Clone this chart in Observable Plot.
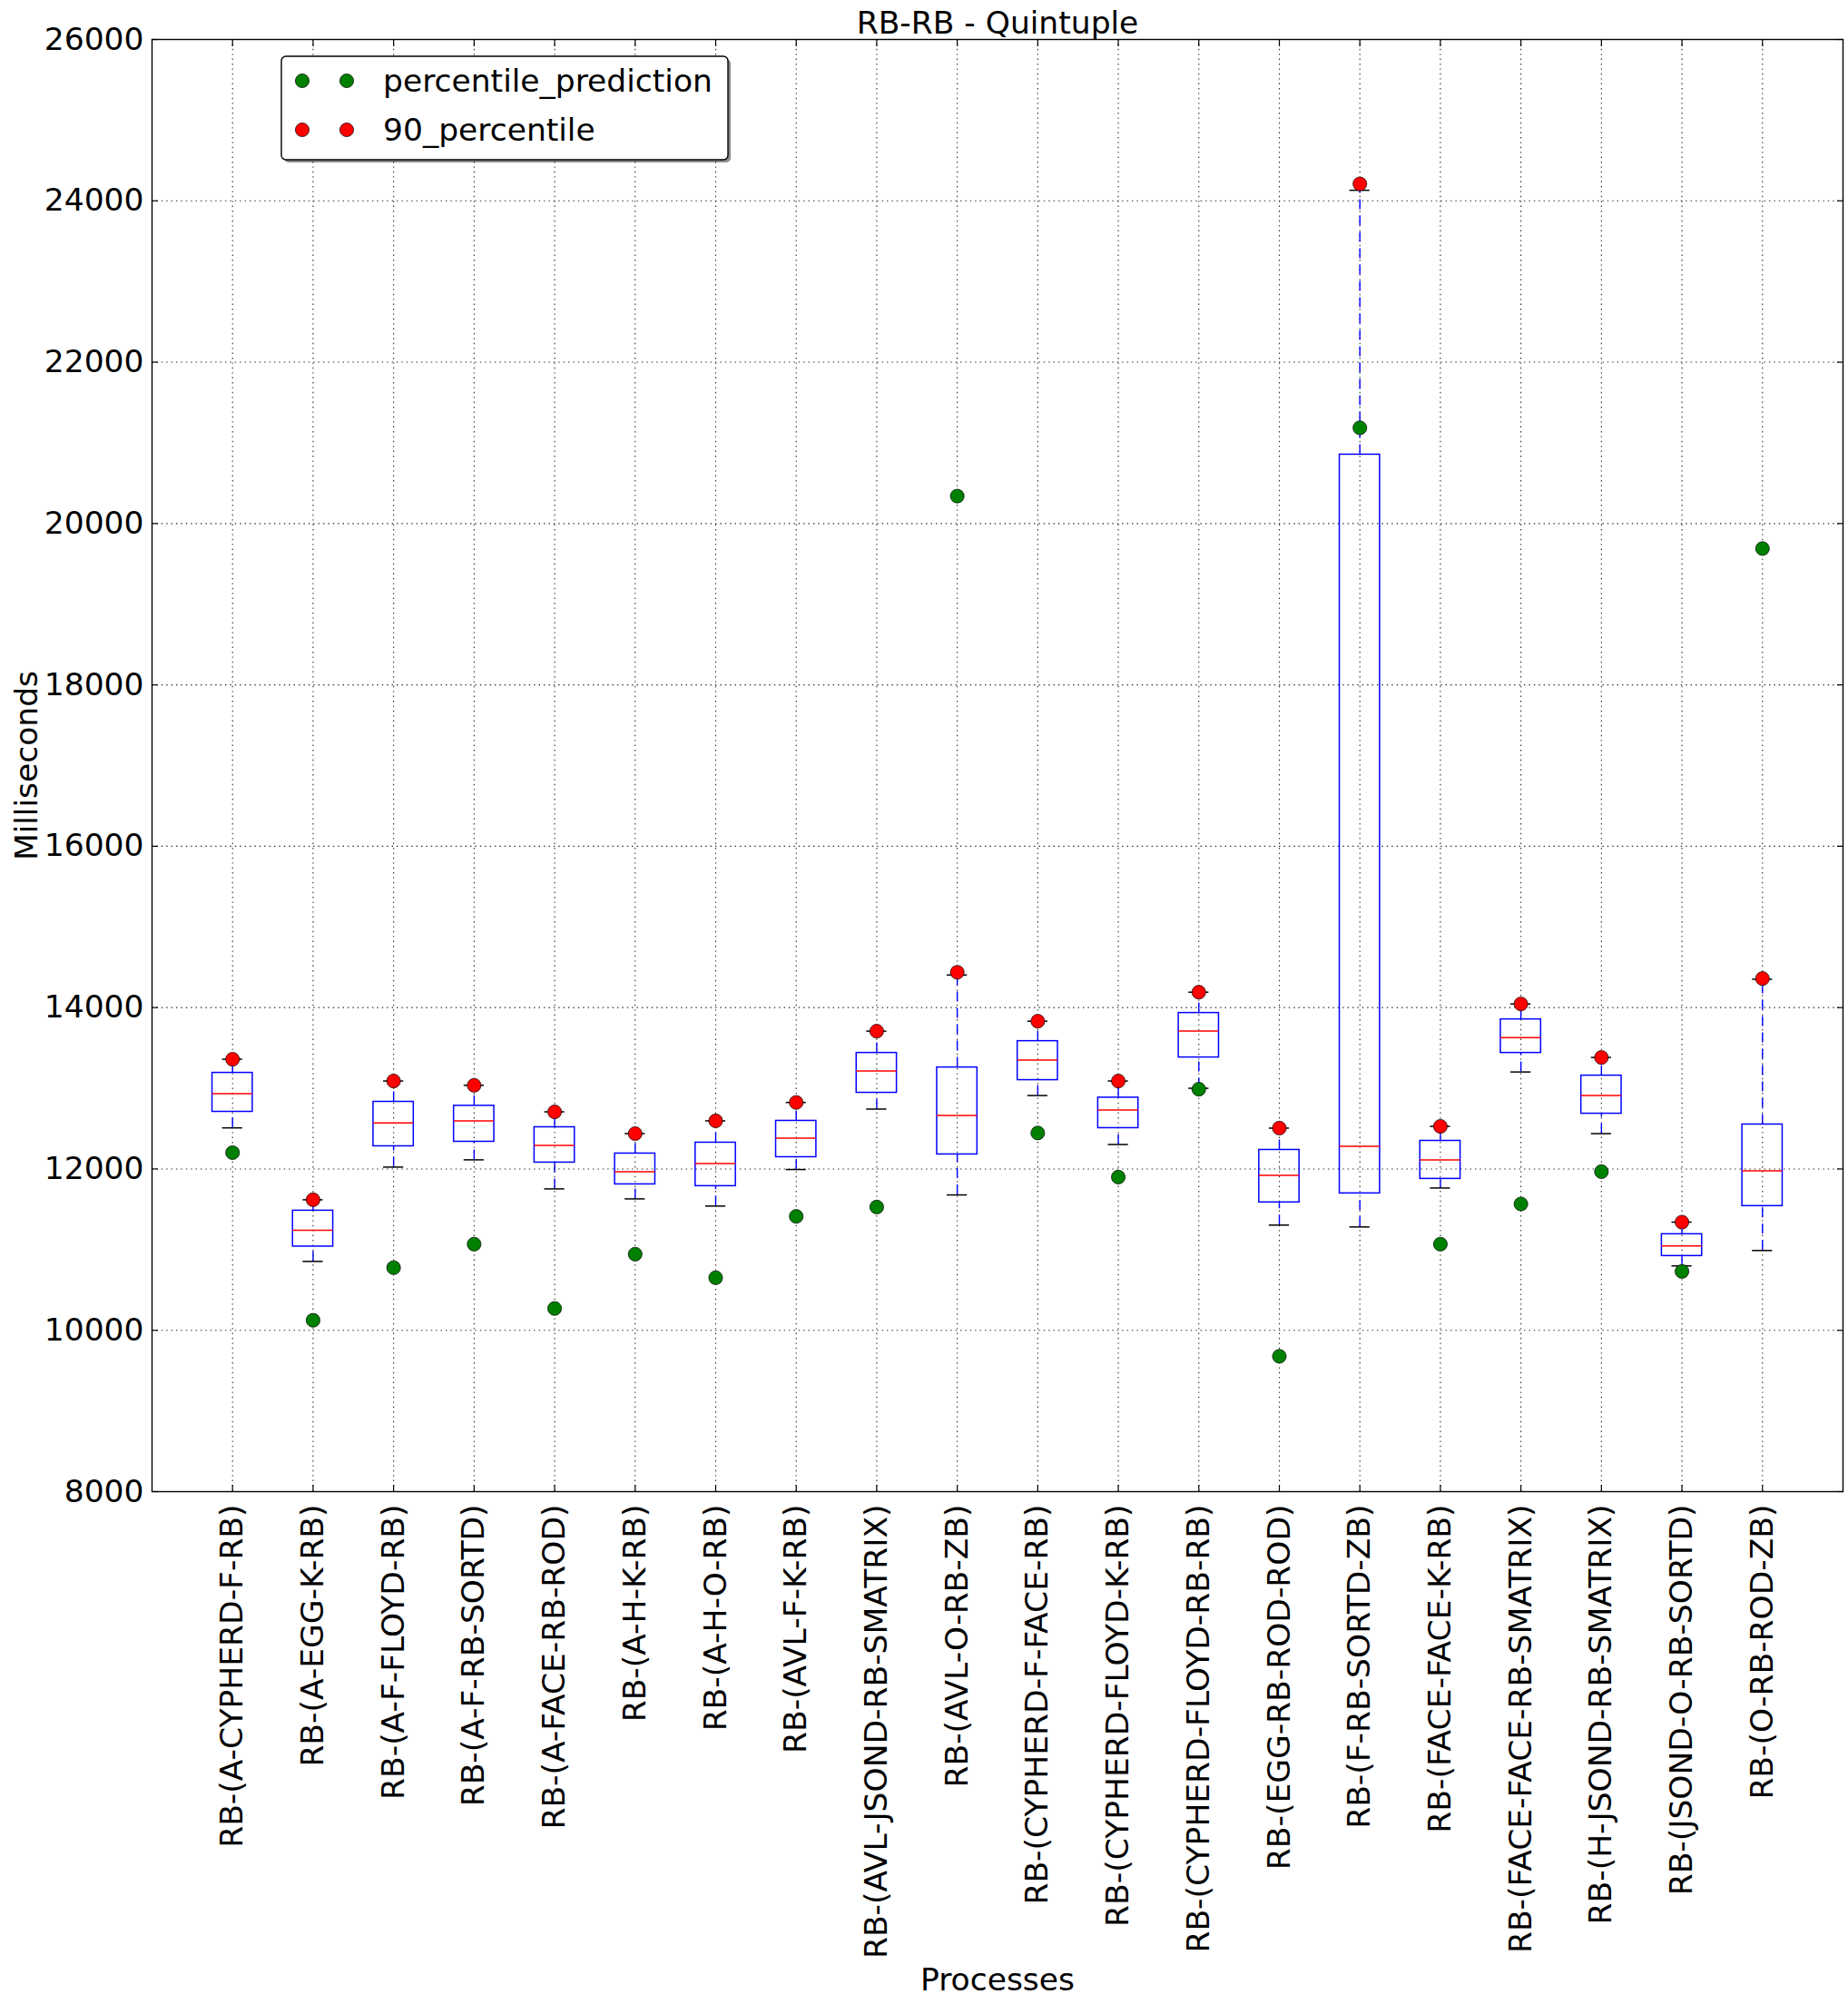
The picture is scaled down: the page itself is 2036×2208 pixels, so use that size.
<!DOCTYPE html>
<html>
<head>
<meta charset="utf-8">
<script src="https://cdn.jsdelivr.net/npm/d3@7"></script>
<script src="https://cdn.jsdelivr.net/npm/@observablehq/plot@0.6"></script>
<style>
  html, body { margin: 0; padding: 0; background: #fff; }
  #chart { position: relative; width: 2036px; height: 2208px; }
</style>
</head>
<body>
<div id="chart"></div>
<script>
const title = "RB-RB - Quintuple";
const xLabel = "Processes";
const yLabel = "Milliseconds";
const yTicks = [8000, 10000, 12000, 14000, 16000, 18000, 20000, 22000, 24000, 26000];
const categories = [
  "RB-(A-CYPHERD-F-RB)", "RB-(A-EGG-K-RB)", "RB-(A-F-FLOYD-RB)", "RB-(A-F-RB-SORTD)",
  "RB-(A-FACE-RB-ROD)", "RB-(A-H-K-RB)", "RB-(A-H-O-RB)", "RB-(AVL-F-K-RB)",
  "RB-(AVL-JSOND-RB-SMATRIX)", "RB-(AVL-O-RB-ZB)", "RB-(CYPHERD-F-FACE-RB)", "RB-(CYPHERD-FLOYD-K-RB)",
  "RB-(CYPHERD-FLOYD-RB-RB)", "RB-(EGG-RB-ROD-ROD)", "RB-(F-RB-SORTD-ZB)", "RB-(FACE-FACE-K-RB)",
  "RB-(FACE-FACE-RB-SMATRIX)", "RB-(H-JSOND-RB-SMATRIX)", "RB-(JSOND-O-RB-SORTD)", "RB-(O-RB-ROD-ZB)"
];
const whiskerLow  = [12509, 10854, 12023, 12113, 11753, 11629, 11540, 11993, 12742, 11678, 12910, 12303, 13000, 11304, 11281, 11764, 13202, 12438, 10798, 10989];
const q1          = [12708, 11038, 12281, 12337, 12079, 11809, 11787, 12146, 12944, 12180, 13101, 12506, 13382, 11585, 11697, 11877, 13438, 12685, 10921, 11540];
const median      = [12933, 11240, 12569, 12596, 12292, 11966, 12068, 12382, 13214, 12663, 13348, 12730, 13708, 11921, 12281, 12112, 13629, 12910, 11045, 11978];
const q3          = [13191, 11483, 12832, 12783, 12517, 12191, 12326, 12596, 13438, 13258, 13584, 12884, 13933, 12236, 20854, 12348, 13854, 13157, 11191, 12551];
const whiskerHigh = [13360, 11618, 13090, 13037, 12708, 12438, 12596, 12824, 13708, 14404, 13831, 13090, 14191, 12506, 24131, 12528, 14045, 13382, 11341, 14352];
const percentile90 = [13360, 11618, 13090, 13037, 12708, 12438, 12596, 12824, 13708, 14438, 13831, 13090, 14191, 12506, 24210, 12528, 14045, 13382, 11341, 14360];
const prediction   = [12202, 10124, 10776, 11068, 10270, 10944, 10652, 11412, 11528, 20340, 12446, 11899, 12989, 9678, 21187, 11068, 11566, 11966, 10730, 19690];
const seriesNames = ["percentile_prediction", "90_percentile"];
const seriesColors = ["#008000", "#ff0000"];

const rows = categories.map((c, i) => ({
  pos: i + 1, name: c,
  lo: whiskerLow[i], q1: q1[i], med: median[i], q3: q3[i], hi: whiskerHigh[i],
  p90: percentile90[i], pred: prediction[i]
}));
const xTicks = rows.map(d => d.pos);
const FS = 34.5;
const FONT = "DejaVu Sans";
const HALF = 0.25, CAP = 0.125;
const R = 7.6;

const plot = Plot.plot({
  width: 2036, height: 2208,
  marginLeft: 167, marginRight: 6, marginTop: 43, marginBottom: 565,
  style: { fontFamily: FONT, fontSize: FS + "px", background: "#fff", color: "#000" },
  x: { type: "linear", domain: [0, categories.length + 1] },
  y: { type: "linear", domain: [yTicks[0], yTicks[yTicks.length - 1]] },
  marks: [
    Plot.gridY(yTicks, { stroke: "#000", strokeOpacity: 0.85, strokeWidth: 1.1, strokeDasharray: "1.4,4" }),
    Plot.gridX(xTicks, { stroke: "#000", strokeOpacity: 0.85, strokeWidth: 1.1, strokeDasharray: "1.4,4" }),
    // inward ticks on all four sides
    Plot.axisY(yTicks, { anchor: "left", tickSize: -7, tickFormat: () => "", label: null, strokeWidth: 1.2 }),
    Plot.axisY(yTicks, { anchor: "right", tickSize: -7, tickFormat: () => "", label: null, strokeWidth: 1.2 }),
    Plot.axisX(xTicks, { anchor: "bottom", tickSize: -7, tickFormat: () => "", label: null, strokeWidth: 1.2 }),
    Plot.axisX(xTicks, { anchor: "top", tickSize: -7, tickFormat: () => "", label: null, strokeWidth: 1.2 }),
    // tick labels
    Plot.axisY(yTicks, { anchor: "left", tickSize: 0, tickPadding: 9, label: null, fontSize: FS, tickFormat: d => String(d) }),
    Plot.axisX(xTicks, { anchor: "bottom", tickSize: 0, tickPadding: 14, tickRotate: -90, label: null, fontSize: FS, tickFormat: d => categories[d - 1] }),
    // whiskers
    Plot.ruleX(rows, { x: "pos", y1: "q3", y2: "hi", stroke: "#0000ff", strokeWidth: 1.4, strokeDasharray: "11,7" }),
    Plot.ruleX(rows, { x: "pos", y1: "lo", y2: "q1", stroke: "#0000ff", strokeWidth: 1.4, strokeDasharray: "11,7" }),
    // caps
    Plot.ruleY(rows, { y: "hi", x1: d => d.pos - CAP, x2: d => d.pos + CAP, stroke: "#000", strokeWidth: 1.5 }),
    Plot.ruleY(rows, { y: "lo", x1: d => d.pos - CAP, x2: d => d.pos + CAP, stroke: "#000", strokeWidth: 1.5 }),
    // boxes
    Plot.rect(rows, { x1: d => d.pos - HALF, x2: d => d.pos + HALF, y1: "q1", y2: "q3", fill: "none", stroke: "#0000ff", strokeWidth: 1.5 }),
    // medians
    Plot.ruleY(rows, { y: "med", x1: d => d.pos - HALF, x2: d => d.pos + HALF, stroke: "#ff0000", strokeWidth: 1.5 }),
    // points
    Plot.dot(rows, { x: "pos", y: "pred", r: R, fill: seriesColors[0], stroke: "#000", strokeWidth: 0.7 }),
    Plot.dot(rows, { x: "pos", y: "p90", r: R, fill: seriesColors[1], stroke: "#000", strokeWidth: 0.7 }),
    Plot.frame({ stroke: "#000", strokeWidth: 1.4 }),
    // title and axis labels
    Plot.text([title], { frameAnchor: "top", dy: -17.5, lineAnchor: "middle", textAnchor: "middle", fontSize: FS, fill: "#000" }),
    Plot.text([xLabel], { frameAnchor: "bottom", dy: 538, lineAnchor: "middle", textAnchor: "middle", fontSize: FS, fill: "#000" }),
    Plot.text([yLabel], { frameAnchor: "left", dx: -138, rotate: -90, lineAnchor: "middle", textAnchor: "middle", fontSize: FS, fill: "#000" })
  ]
});
document.getElementById("chart").appendChild(plot);

// legend (inside the axes, upper-left)
const svg = d3.select(plot);
const lg = svg.append("g").attr("class", "legend").attr("text-anchor", "start");
const lx = 310, ly = 62, lw = 492, lh = 114;
lg.append("rect").attr("x", lx + 3).attr("y", ly + 3).attr("width", lw).attr("height", lh)
  .attr("rx", 5).attr("fill", "#000").attr("fill-opacity", 0.45);
lg.append("rect").attr("x", lx).attr("y", ly).attr("width", lw).attr("height", lh)
  .attr("rx", 5).attr("fill", "#fff").attr("stroke", "#000").attr("stroke-width", 1.4);
seriesNames.forEach((name, i) => {
  const cy = 89 + i * 54;
  [333, 382].forEach(cx => {
    lg.append("circle").attr("cx", cx).attr("cy", cy).attr("r", R)
      .attr("fill", seriesColors[i]).attr("stroke", "#000").attr("stroke-width", 0.7);
  });
  lg.append("text").attr("x", 422).attr("y", cy).attr("dy", "0.36em")
    .attr("text-anchor", "start")
    .attr("font-family", FONT).attr("font-size", FS).attr("fill", "#000").text(name);
});
</script>
</body>
</html>
